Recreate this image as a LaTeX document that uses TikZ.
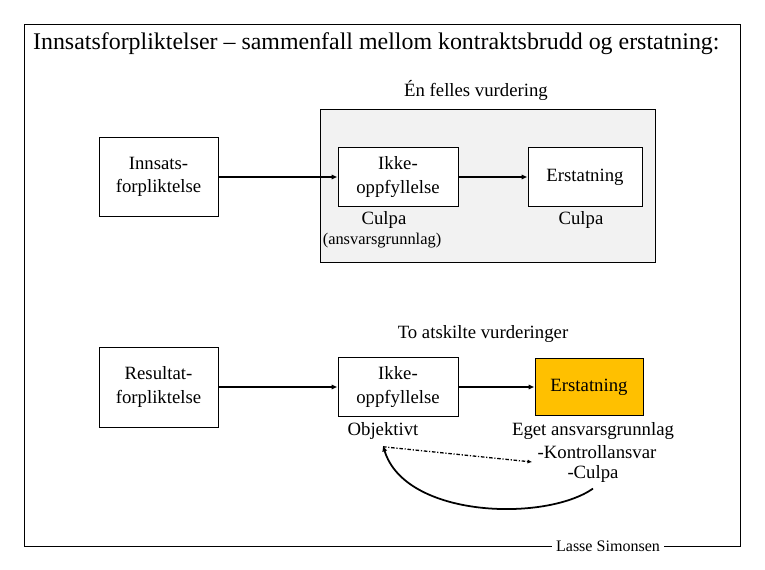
\documentclass[tikz,border=0pt]{standalone}
\usepackage{fontspec}
\setmainfont{Liberation Serif}
\usetikzlibrary{arrows.meta}

\tikzset{
  boks/.style={draw, thick, fill=white, align=center, font=\fontsize{16}{20}\selectfont, inner sep=0pt},
  tekst/.style={align=center, font=\fontsize{16}{20}\selectfont, inner sep=1pt},
  pil/.style={line width=1.7pt, -{Latex[length=5pt,width=4.5pt]}}
}

\begin{document}
\begin{tikzpicture}[x=0.03cm, y=-0.03cm]
\useasboundingbox (0,0) rectangle (765,570);

% Ramme og overskrift
\draw[thick] (24,24) rectangle (740,546);
\node[anchor=west, font=\fontsize{20.4}{22}\selectfont] (tittel) at (29,44) {Innsatsforpliktelser -- sammenfall mellom kontraktsbrudd og erstatning:};
\node[fill=white, font=\fontsize{13.7}{15}\selectfont] (forfatter) at (608,546) {Lasse Simonsen};

% Felles vurdering
\node[tekst] (felles) at (476,90) {Én felles vurdering};
\draw[fill=gray!10] (320,109) rectangle (655,262);

\node[boks, minimum width=119*0.03cm, minimum height=79*0.03cm] (innsats) at (158.5,177) {Innsats-\\forpliktelse};
\node[boks, minimum width=120*0.03cm, minimum height=59*0.03cm] (ikke1) at (398,177) {Ikke-\\oppfyllelse};
\node[boks, minimum width=114*0.03cm, minimum height=59*0.03cm] (erst1) at (585,177) {Erstatning};
\draw[pil] (innsats) -- (ikke1);
\draw[pil] (ikke1) -- (erst1);

\node[tekst] (culpa1) at (384,220) {Culpa};
\node[tekst, font=\fontsize{14}{16}\selectfont] (grunnlag) at (382,241) {(ansvarsgrunnlag)};
\node[tekst] (culpa2) at (581,220) {Culpa};

% Atskilte vurderinger
\node[tekst] (atskilt) at (483,334) {To atskilte vurderinger};

\node[boks, minimum width=119*0.03cm, minimum height=80*0.03cm] (resultat) at (158.5,387) {Resultat-\\forpliktelse};
\node[boks, minimum width=120*0.03cm, minimum height=59*0.03cm] (ikke2) at (398,387) {Ikke-\\oppfyllelse};
\node[boks, fill={rgb,255:red,255;green,192;blue,0}, minimum width=108*0.03cm, minimum height=57*0.03cm] (erst2) at (589,387) {Erstatning};
\draw[pil] (resultat) -- (ikke2);
\draw[pil] (ikke2) -- (erst2);

\node[tekst] (objektivt) at (383,431) {Objektivt};
\node[tekst] (eget) at (593,431) {Eget ansvarsgrunnlag};
\node[tekst] (kontroll) at (597,452) {-Kontrollansvar};
\node[tekst] (culpa3) at (593,474) {-Culpa};

\draw[line width=1.1pt, dash pattern=on 3pt off 1.5pt on 1pt off 1.5pt, -{Latex[length=4pt,width=3.5pt]}]
  ([yshift=-5]objektivt.south) -- ([shift={(-4,2)}]kontroll.south west);
\draw[line width=1.5pt, -{Latex[length=5pt,width=4.5pt]}]
  ([yshift=-4]culpa3.south) .. controls (545,522) and (405,518) .. ([yshift=-4]objektivt.south);
\end{tikzpicture}
\end{document}
